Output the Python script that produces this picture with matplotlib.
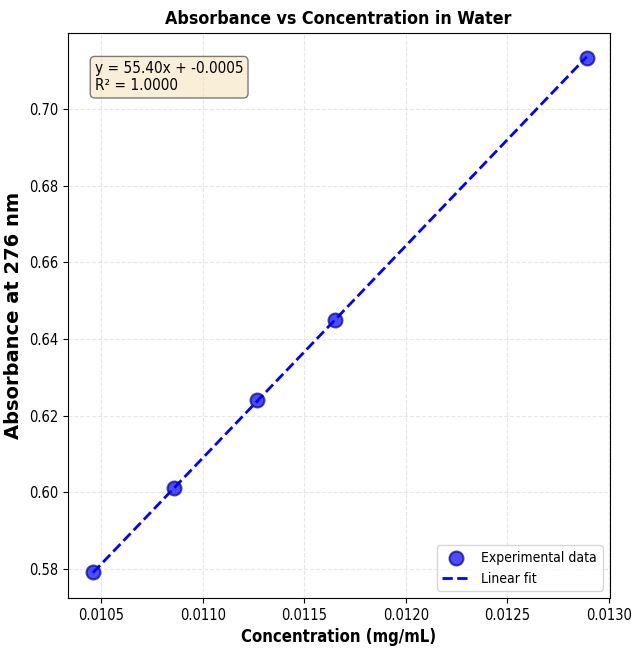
import numpy as np
import matplotlib
matplotlib.use('Agg')
import matplotlib.pyplot as plt

plt.rcParams['font.stretch'] = 'condensed'

concentration = [0.01046, 0.01086, 0.01127, 0.01165, 0.01289]
absorbance = [0.5792, 0.601, 0.624, 0.645, 0.7133]
slope, intercept = 55.40, -0.0005
r_squared = 1.0000

fig, ax = plt.subplots(figsize=(6.33, 6.55), dpi=100)

ax.scatter(concentration, absorbance, s=100, color='blue', alpha=0.7,
           edgecolors='darkblue', linewidths=1.5, label='Experimental data', zorder=3)
x_fit = np.array([min(concentration), max(concentration)])
ax.plot(x_fit, slope * x_fit + intercept, '--', color='blue', linewidth=2,
        label='Linear fit', zorder=2)

ax.text(0.05, 0.95, f'y = {slope:.2f}x + {intercept:.4f}\nR\u00b2 = {r_squared:.4f}',
        transform=ax.transAxes, fontsize=11, va='top',
        bbox=dict(boxstyle='round', facecolor='wheat', alpha=0.5))

ax.set_xlabel('Concentration (mg/mL)', fontsize=12, fontweight='bold')
ax.set_ylabel('Absorbance at 276 nm', fontsize=14, fontweight='bold', stretch='normal')
ax.set_title('Absorbance vs Concentration in Water', fontsize=12.8, fontweight='bold')
ax.grid(True, linestyle='--', alpha=0.3)
ax.legend(loc='lower right', fontsize=10)
ax.tick_params(labelsize=10.5)
ax.set_xlim(0.010336, 0.013003)
ax.set_ylim(0.5724, 0.7199)

fig.subplots_adjust(left=0.107, right=0.963, top=0.950, bottom=0.087)
plt.savefig('out.png', dpi=100)
